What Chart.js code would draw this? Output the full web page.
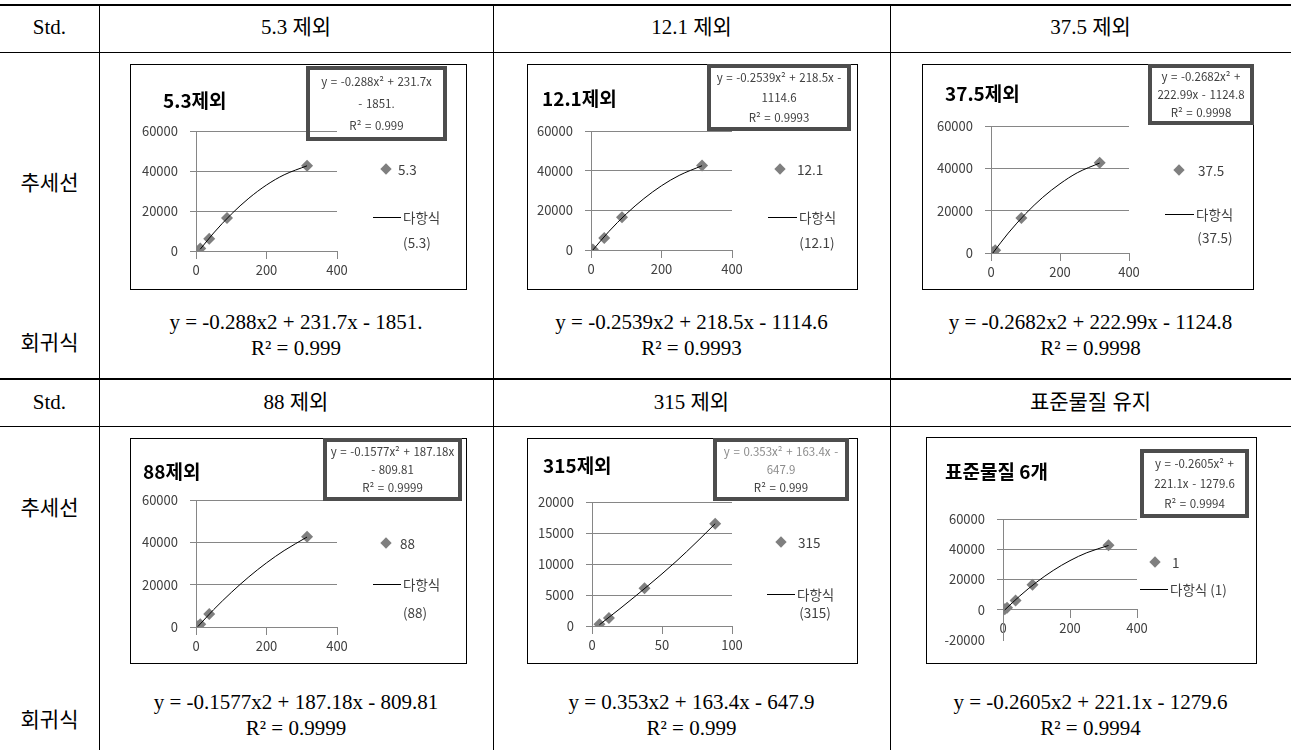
<!DOCTYPE html>
<html>
<head>
<meta charset="utf-8">
<script src="https://cdn.jsdelivr.net/npm/chart.js@4"></script>
<style>
body { margin: 0; background: #fff; }
#page { position: relative; width: 1291px; height: 750px; overflow: hidden; font-family: "Liberation Serif", "Noto Sans CJK KR", serif; color: #000; }
.hl { position: absolute; left: 0; width: 1291px; background: #000; }
.vl { position: absolute; top: 5px; width: 1px; height: 745px; background: #000; }
.cell { position: absolute; text-align: center; font-size: 21px; line-height: 26px; transform: translateY(-50%); white-space: nowrap; }
.box { position: absolute; border: 1px solid #000; box-sizing: border-box; background: #fff; }
.box canvas { position: absolute; left: 0; top: 0; }
.ctitle { position: absolute; font-family: "Noto Sans CJK KR", sans-serif; font-weight: 700; font-size: 19px; line-height: 24px; transform: translateY(-50%); white-space: nowrap; }
.eq { position: absolute; border: 4px solid #4d4d4d; box-sizing: border-box; display: flex; flex-direction: column; justify-content: space-around; align-items: center; font-family: "Noto Sans CJK KR", sans-serif; font-size: 11.5px; line-height: 13px; word-spacing: 1px; color: #404040; white-space: nowrap; padding: 0; }
.lgtxt { position: absolute; font-family: "Noto Sans CJK KR", sans-serif; font-size: 13.5px; line-height: 16px; color: #404040; transform: translateY(-50%); white-space: nowrap; }
.dia { position: absolute; width: 8px; height: 8px; background: #7f7f7f; transform: translate(-50%, -50%) rotate(45deg); }
.lgline { position: absolute; height: 1px; background: #000; }
</style>
</head>
<body>
<div id="page"></div>
<script>
// standard points (concentration vs area)
const stdConc = [5.3, 12.1, 37.5, 88, 315];
const stdArea = [300, 1300, 6100, 16500, 42600];

// index of the standard left out in each panel (-1 = all kept)
const excluded = [0, 1, 2, 3, 4, -1];

const panelTitles = ['5.3제외', '12.1제외', '37.5제외', '88제외', '315제외', '표준물질 6개'];
const headerTexts = ['5.3 제외', '12.1 제외', '37.5 제외', '88 제외', '315 제외', '표준물질 유지'];
const legendNames = ['5.3', '12.1', '37.5', '88', '315', '1'];

// trend curves
const trend1X = [12.1, 50, 100, 150, 200, 250, 315];
const trend1Y = [900, 9000, 18400, 26400, 33000, 38100, 42600];
const trend2X = [5.3, 50, 100, 150, 200, 250, 315];
const trend2Y = [0, 9200, 18200, 25900, 32400, 37600, 42500];
const trend3X = [5.3, 50, 100, 150, 200, 250, 315];
const trend3Y = [0, 9400, 18500, 26300, 32700, 37900, 42500];
const trend4X = [5.3, 50, 100, 150, 200, 250, 315];
const trend4Y = [200, 8200, 16300, 23700, 30300, 36100, 42500];
const trend5X = [5.3, 20, 40, 60, 75, 88];
const trend5Y = [200, 2800, 6500, 10400, 13600, 16500];
const trend6X = [5.3, 50, 100, 150, 200, 250, 315];
const trend6Y = [-100, 9100, 18200, 26000, 32500, 37700, 42500];
const trendX = [trend1X, trend2X, trend3X, trend4X, trend5X, trend6X];
const trendY = [trend1Y, trend2Y, trend3Y, trend4Y, trend5Y, trend6Y];

// equation box lines as shown in the charts
const eqLines = [
    ['y = -0.288x² + 231.7x', '- 1851.', 'R² = 0.999'],
    ['y = -0.2539x² + 218.5x -', '1114.6', 'R² = 0.9993'],
    ['y = -0.2682x² +', '222.99x - 1124.8', 'R² = 0.9998'],
    ['y = -0.1577x² + 187.18x', '- 809.81', 'R² = 0.9999'],
    ['y = 0.353x² + 163.4x -', '647.9', 'R² = 0.999'],
    ['y = -0.2605x² +', '221.1x - 1279.6', 'R² = 0.9994']
];

// regression text under each chart
const regLines = [
    ['y = -0.288x2 + 231.7x - 1851.', 'R² = 0.999'],
    ['y = -0.2539x2 + 218.5x - 1114.6', 'R² = 0.9993'],
    ['y = -0.2682x2 + 222.99x - 1124.8', 'R² = 0.9998'],
    ['y = -0.1577x2 + 187.18x - 809.81', 'R² = 0.9999'],
    ['y = 0.353x2 + 163.4x - 647.9', 'R² = 0.999'],
    ['y = -0.2605x2 + 221.1x - 1279.6', 'R² = 0.9994']
];

// axis ranges
const xMaxes = [400, 400, 400, 400, 100, 400];
const xSteps = [200, 200, 200, 200, 50, 200];
const yMins = [0, 0, 0, 0, 0, -20000];
const yMaxes = [60000, 60000, 60000, 60000, 20000, 60000];
const ySteps = [20000, 20000, 20000, 20000, 5000, 20000];

// page layout for each panel
const layout = [
    { box: [130, 64, 467, 290], plot: [196, 131, 337, 251], title: [163, 100], eq: [306, 66, 447, 141],
      dia: [386, 169], name: [398, 169], line: [373, 401, 217], sub: [417, 242], subText: '(5.3)' },
    { box: [527, 64, 858, 290], plot: [591, 131, 732, 250], title: [542, 98], eq: [707, 64, 851, 131],
      dia: [780, 169], name: [797, 169], line: [768, 797, 217], sub: [817, 242], subText: '(12.1)' },
    { box: [922, 64, 1254, 290], plot: [991, 126, 1129, 253], title: [945, 93], eq: [1148, 64, 1254, 125],
      dia: [1179, 170], name: [1198, 170], line: [1165, 1194, 214], sub: [1215, 237], subText: '(37.5)' },
    { box: [130, 438, 467, 664], plot: [196, 500, 337, 627], title: [143, 471], eq: [323, 438, 462, 501],
      dia: [386, 543], name: [400, 543], line: [373, 401, 584], sub: [415, 612], subText: '(88)' },
    { box: [527, 438, 858, 664], plot: [592, 502, 732, 626], title: [543, 465], eq: [713, 438, 849, 501],
      dia: [781, 542], name: [798, 542], line: [767, 795, 594], sub: [815, 612], subText: '(315)' },
    { box: [926, 437, 1257, 664], plot: [1003, 519, 1137, 640], title: [945, 471], eq: [1140, 449, 1249, 518],
      dia: [1155, 562], name: [1172, 562], line: [1140, 1168, 589], sub: null, subText: '' }
];

const page = document.getElementById('page');
const GRID = '#868686';
const TICK_FONT = { family: '"Noto Sans CJK KR", sans-serif', size: 13 };

function add(cls, css, text) {
    const el = document.createElement('div');
    el.className = cls;
    Object.assign(el.style, css);
    if (text !== undefined) el.textContent = text;
    page.appendChild(el);
    return el;
}

function drawTable() {
    add('hl', { top: '4px', height: '2px' });
    add('hl', { top: '52px', height: '1px' });
    add('hl', { top: '378px', height: '2px' });
    add('hl', { top: '426px', height: '1px' });
    [99, 493, 890].forEach(x => add('vl', { left: x + 'px' }));

    const cols = [[99, 493], [493, 890], [890, 1291]];
    const rows = [
        { head: 27, trend: 183, reg: 343, l1: 322, l2: 348 },
        { head: 402, trend: 508, reg: 720, l1: 702, l2: 728 }
    ];
    rows.forEach((r, ri) => {
        add('cell', { left: '0px', width: '99px', top: r.head + 'px' }, 'Std.');
        add('cell', { left: '0px', width: '99px', top: r.trend + 'px' }, '추세선');
        add('cell', { left: '0px', width: '99px', top: r.reg + 'px' }, '회귀식');
        cols.forEach((c, ci) => {
            const i = ri * 3 + ci;
            const css = { left: c[0] + 'px', width: (c[1] - c[0]) + 'px' };
            add('cell', Object.assign({ top: r.head + 'px' }, css), headerTexts[i]);
            add('cell', Object.assign({ top: r.l1 + 'px' }, css), regLines[i][0]);
            add('cell', Object.assign({ top: r.l2 + 'px' }, css), regLines[i][1]);
        });
    });
}

function drawPanel(i) {
    const p = layout[i];
    const [bl, bt, br, bb] = p.box;
    const box = add('box', { left: bl + 'px', top: bt + 'px', width: (br - bl) + 'px', height: (bb - bt) + 'px' });

    const cw = br - bl - 2, ch = bb - bt - 2;
    const canvas = document.createElement('canvas');
    canvas.width = cw;
    canvas.height = ch;
    box.appendChild(canvas);

    // canvas origin on the page
    const cl = bl + 1, ct = bt + 1;
    const [pl, pt, pr, pb] = p.plot;
    const yAxisW = pl - cl;
    const padTop = pt - ct;
    const padRight = (cl + cw) - pr;
    const crossAtZero = yMins[i] < 0;
    const bottomSpace = (ct + ch) - pb;

    const pts = [];
    stdConc.forEach((x, k) => {
        if (k !== excluded[i]) pts.push({ x: x, y: stdArea[k] });
    });
    const curve = trendX[i].map((x, k) => ({ x: x, y: trendY[i][k] }));

    new Chart(canvas.getContext('2d'), {
        type: 'scatter',
        data: {
            datasets: [
                {
                    label: legendNames[i],
                    data: pts,
                    pointStyle: 'rectRot',
                    pointRadius: 6,
                    backgroundColor: '#7f7f7f',
                    borderColor: '#7f7f7f',
                    borderWidth: 0,
                    order: 1
                },
                {
                    label: '다항식',
                    data: curve,
                    showLine: true,
                    pointRadius: 0,
                    borderColor: '#000',
                    borderWidth: 1,
                    cubicInterpolationMode: 'monotone',
                    order: 0
                }
            ]
        },
        options: {
            responsive: false,
            animation: false,
            events: [],
            layout: { padding: { top: padTop, right: padRight, left: 0, bottom: crossAtZero ? bottomSpace : 0 } },
            plugins: { legend: { display: false }, tooltip: { enabled: false } },
            scales: {
                x: {
                    type: 'linear',
                    min: 0,
                    max: xMaxes[i],
                    position: crossAtZero ? { y: 0 } : 'bottom',
                    ticks: { stepSize: xSteps[i], font: TICK_FONT, color: '#404040', padding: 3, maxRotation: 0,
                             callback: v => String(v) },
                    grid: { drawOnChartArea: false, tickLength: 8, color: GRID },
                    border: { color: GRID },
                    afterFit: s => { s.height = crossAtZero ? 0 : bottomSpace; }
                },
                y: {
                    min: yMins[i],
                    max: yMaxes[i],
                    ticks: { stepSize: ySteps[i], font: TICK_FONT, color: '#404040', padding: 12,
                             callback: v => String(v) },
                    grid: {
                        tickLength: 6,
                        color: c => (c.tick && c.tick.value < 0) ? 'rgba(0,0,0,0)' : GRID
                    },
                    border: { color: GRID },
                    afterFit: s => { s.width = yAxisW; }
                }
            }
        }
    });

    add('ctitle', { left: p.title[0] + 'px', top: p.title[1] + 'px' }, panelTitles[i]);

    const [el, et, er, eb] = p.eq;
    const eq = add('eq', { left: el + 'px', top: et + 'px', width: (er - el) + 'px', height: (eb - et) + 'px' });
    eqLines[i].forEach((t, k) => {
        const s = document.createElement('span');
        s.textContent = t;
        if (i === 4 && k < 2) s.style.color = '#8c8c8c';
        eq.appendChild(s);
    });

    add('dia', { left: p.dia[0] + 'px', top: p.dia[1] + 'px' });
    add('lgtxt', { left: p.name[0] + 'px', top: p.name[1] + 'px' }, legendNames[i]);
    add('lgline', { left: p.line[0] + 'px', top: p.line[2] + 'px', width: (p.line[1] - p.line[0]) + 'px' });
    add('lgtxt', { left: (p.line[1] + 2) + 'px', top: p.line[2] + 'px' }, p.sub ? '다항식' : '다항식  (1)');
    if (p.sub) {
        const s = add('lgtxt', { left: p.sub[0] + 'px', top: p.sub[1] + 'px' }, p.subText);
        s.style.transform = 'translate(-50%, -50%)';
    }
}

drawTable();
for (let i = 0; i < 6; i++) drawPanel(i);
</script>
</body>
</html>
